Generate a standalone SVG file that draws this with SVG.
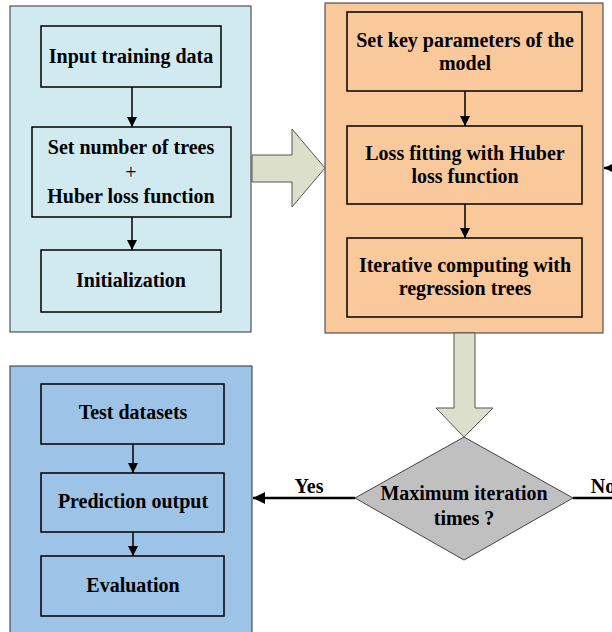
<svg xmlns="http://www.w3.org/2000/svg" width="612" height="632" viewBox="0 0 612 632">
<defs>
<style>
text{font-family:"Liberation Serif","Times New Roman",serif;font-weight:bold;font-size:20px;fill:#000;text-anchor:middle}
.outer{stroke:#333;stroke-width:1}
.inner{stroke:#000;stroke-width:1.5}
.conn{stroke:#000;stroke-width:1.5;fill:none}
.thick{stroke:#000;stroke-width:2.5;fill:none}
.big{fill:#DCE0CB;stroke:#555;stroke-width:1}
</style>
<marker id="ah" viewBox="0 0 10 10" refX="10" refY="5" markerWidth="10" markerHeight="10" markerUnits="userSpaceOnUse" orient="auto">
<path d="M0,0 L10,5 L0,10 Z" fill="#000"/>
</marker>
<marker id="ahb" viewBox="0 0 10 10" refX="10" refY="5" markerWidth="12" markerHeight="12" markerUnits="userSpaceOnUse" orient="auto">
<path d="M0,0 L10,5 L0,10 Z" fill="#000"/>
</marker>
</defs>
<g id="panel-training">
<rect class="outer" x="10" y="6" width="241" height="326" fill="#D0EAF0"/>
</g>
<g id="panel-model">
<rect class="outer" x="325" y="3" width="278" height="330" fill="#F9C89B"/>
</g>
<g id="panel-test">
<rect class="outer" x="10" y="366" width="242" height="270" fill="#9DC3E6"/>
</g>
<g id="input">
<rect class="inner" x="41" y="26" width="180" height="61" fill="#D0EAF0"/>
<text x="131" y="63">Input training data</text>
</g>
<g id="settrees">
<rect class="inner" x="32" y="127" width="199" height="90" fill="#D0EAF0"/>
<text x="131" y="154">Set number of trees</text>
<text x="131" y="179" style="font-weight:normal">+</text>
<text x="131" y="203">Huber loss function</text>
</g>
<g id="init">
<rect class="inner" x="41" y="250" width="180" height="62" fill="#D0EAF0"/>
<text x="131" y="287">Initialization</text>
</g>
<g id="keyparams">
<rect class="inner" x="347" y="12" width="235" height="79" fill="#F9C89B"/>
<text x="465" y="47">Set key parameters of the</text>
<text x="465" y="70">model</text>
</g>
<g id="lossfit">
<rect class="inner" x="347" y="126" width="235" height="78" fill="#F9C89B"/>
<text x="465" y="160">Loss fitting with Huber</text>
<text x="465" y="183">loss function</text>
</g>
<g id="iterative">
<rect class="inner" x="347" y="238" width="235" height="79" fill="#F9C89B"/>
<text x="465" y="272">Iterative computing with</text>
<text x="465" y="295">regression trees</text>
</g>
<g id="testdata">
<rect class="inner" x="41" y="384" width="183" height="60" fill="#9DC3E6"/>
<text x="133" y="419">Test datasets</text>
</g>
<g id="prediction">
<rect class="inner" x="41" y="473" width="183" height="59" fill="#9DC3E6"/>
<text x="133" y="508">Prediction output</text>
</g>
<g id="evaluation">
<rect class="inner" x="41" y="556" width="183" height="60" fill="#9DC3E6"/>
<text x="133" y="592">Evaluation</text>
</g>
<g id="decision">
<polygon points="464,437 573,498 464,560 355,498" fill="#C0C0C0" stroke="#444" stroke-width="1"/>
<text x="464" y="500">Maximum iteration</text>
<text x="464" y="525">times ?</text>
</g>
<g id="connectors">
<line class="conn" x1="132" y1="87" x2="132" y2="127" marker-end="url(#ah)"/>
<line class="conn" x1="132" y1="217" x2="132" y2="250" marker-end="url(#ah)"/>
<line class="conn" x1="465" y1="91" x2="465" y2="126" marker-end="url(#ah)"/>
<line class="conn" x1="465" y1="204" x2="465" y2="238" marker-end="url(#ah)"/>
<line class="conn" x1="133" y1="444" x2="133" y2="473" marker-end="url(#ah)"/>
<line class="conn" x1="133" y1="532" x2="133" y2="556" marker-end="url(#ah)"/>
<polygon class="big" points="252,155 292,155 292,129 325,168 292,207 292,182 252,182"/>
<polygon class="big" points="454,333 475,333 475,408 493,408 464,437 436,408 454,408"/>
<line class="thick" x1="355" y1="498" x2="253" y2="498" marker-end="url(#ahb)"/>
<line class="thick" x1="573" y1="498" x2="612" y2="498"/>
<line class="thick" x1="614" y1="168" x2="604" y2="168" marker-end="url(#ahb)"/>
<text x="309" y="493">Yes</text>
<text x="603" y="493">No</text>
</g>
</svg>
